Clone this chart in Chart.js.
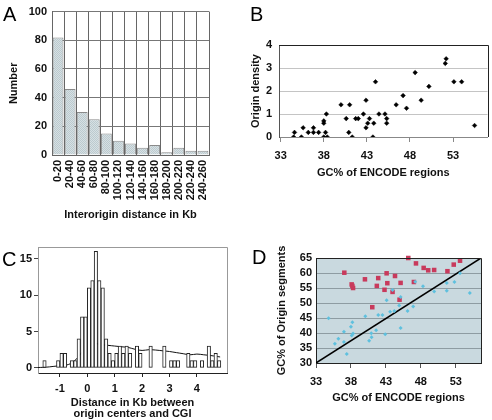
<!DOCTYPE html>
<html>
<head>
<meta charset="utf-8">
<script src="https://cdn.jsdelivr.net/npm/chart.js@4.4.1/dist/chart.umd.min.js"></script>
<style>
  body { margin: 0; background: #fff; }
  #wrap { position: relative; width: 492px; height: 420px; overflow: hidden; font-family: "Liberation Sans", Arial, sans-serif; }
  canvas { position: absolute; }
  .letter { position: absolute; font-size: 20px; line-height: 20px; color: #000; }
</style>
</head>
<body>
<div id="wrap">
  <canvas id="chartA" width="246" height="225" style="left:0;top:0"></canvas>
  <canvas id="chartB" width="246" height="160" style="left:246px;top:30px"></canvas>
  <canvas id="chartC" width="246" height="195" style="left:0;top:225px"></canvas>
  <canvas id="chartD" width="246" height="180" style="left:246px;top:240px"></canvas>
  <div class="letter" style="left:3px;top:4px">A</div>
  <div class="letter" style="left:250px;top:4px">B</div>
  <div class="letter" style="left:2px;top:249px">C</div>
  <div class="letter" style="left:252px;top:247px">D</div>
</div>
<script>
// A: interorigin distances
const distanceBins = ['0-20', '20-40', '40-60', '60-80', '80-100', '100-120', '120-140',
  '140-160', '160-180', '180-200', '200-220', '220-240', '240-260'];
const interoriginCounts = [82, 46, 30, 25, 15, 10, 8, 5, 7, 2, 5, 3, 3];

// B: origin density vs GC% of ENCODE regions
const gcB = [34.5, 34.6, 35.4, 35.6, 36.2, 36.8, 36.8, 37.4, 38.0, 38.0, 38.0, 38.2, 38.3, 38.4,
  40.0, 40.6, 40.9, 41.0, 41.3, 41.7, 42.0, 42.6, 42.9, 42.9, 43.1, 43.3, 43.7, 43.8, 44.0,
  44.4, 45.1, 45.3, 45.3, 46.4, 47.2, 47.6, 48.6, 49.3, 50.2, 52.1, 52.2, 53.1, 54.0, 55.5];
const densityB = [0, 0.2, 0, 0.4, 0.2, 0.2, 0.4, 0.2, 0, 0.6, 0.7, 0.2, 1.0, 0,
  1.4, 0.8, 0.2, 1.4, 0, 0.8, 0.8, 1.0, 1.6, 0.4, 0.6, 0.8, 0, 0.6, 2.4,
  1.0, 1.0, 0.8, 0.6, 1.4, 1.8, 1.25, 2.8, 1.6, 2.2, 3.2, 3.4, 2.4, 2.4, 0.5];
const gcTicks = [33, 38, 43, 48, 53];

// C: distance between origin centers and CGI (kb), bins of 0.125 kb from -1.625
const binStartC = -1.625;
const binWidthC = 0.125;
const countsC = [1, 0, 0, 0, 1, 2, 2, 0, 1, 1, 4, 7, 7, 11, 12, 16, 12, 11, 4, 2,
  1, 2, 3, 2, 3, 2, 0, 3, 2, 0, 0, 3, 0, 0, 0, 3, 0, 1, 1, 1,
  0, 0, 2, 1, 1, 0, 1, 0, 3, 1, 2, 1];
const curveXC = [-1.8, -1.5, -1.25, -1, -0.75, -0.5, -0.25, 0, 0.25, 0.5, 0.75, 1, 1.25, 1.5,
  1.75, 2, 2.25, 2.5, 2.75, 3, 3.25, 3.5, 3.75, 4, 4.25, 4.5, 4.85];
const curveYC = [0.05, 0.1, 0.2, 0.3, 0.4, 0.85, 1.9, 3.0, 3.35, 3.2, 3.1, 3.0, 2.9, 2.8,
  2.55, 2.4, 2.5, 2.45, 2.35, 2.25, 2.1, 1.95, 1.8, 1.9, 1.8, 1.7, 1.5];
const distTicksC = [-1, 0, 1, 2, 3, 4];
const countTicksC = [0, 5, 10, 15];

// D: GC% of origin segments vs GC% of ENCODE regions
const redX = [37.05, 38.1, 38.2, 38.3, 40.0, 41.05, 41.7, 41.9, 42.8, 43.1, 43.2, 43.95,
  44.3, 44.95, 45.1, 46.2, 47.0, 47.3, 48.4, 49.05, 49.9, 51.8, 52.7, 53.6];
const redY = [60.1, 56.2, 55.7, 55.0, 57.9, 48.6, 55.7, 58.3, 54.4, 59.9, 56.6, 53.7,
  59.0, 51.1, 56.7, 65.0, 57.0, 63.2, 61.7, 60.9, 61.0, 60.6, 62.8, 64.1];
const blueX = [34.8, 35.7, 36.2, 37.0, 37.0, 37.4, 38.0, 38.2, 38.1, 38.3, 40.05, 40.6, 40.9,
  40.95, 41.6, 41.9, 42.5, 42.9, 43.1, 43.6, 44.2, 43.95, 44.9, 45.1, 45.1, 46.1, 46.9,
  47.2, 48.3, 49.9, 51.7, 51.7, 52.8, 53.6, 55.0];
const blueY = [44.9, 36.4, 38.1, 37.0, 40.4, 33.0, 42.1, 43.6, 39.2, 39.8, 45.6, 37.4, 39.9,
  38.6, 40.9, 46.0, 46.0, 39.6, 50.9, 47.1, 47.3, 54.3, 49.2, 52.0, 41.7, 47.3, 48.8,
  57.1, 55.6, 53.8, 56.7, 54.1, 57.0, 59.9, 53.3];
const gcOriginTicks = [30, 35, 40, 45, 50, 55, 60, 65];
const diagX = [33, 56.6];
const diagY = [30, 65];

Chart.defaults.font.family = '"Liberation Sans", Arial, sans-serif';
Chart.defaults.font.size = 11;
Chart.defaults.font.weight = 'bold';
Chart.defaults.color = '#111';
Chart.defaults.animation = false;
Chart.defaults.events = [];
Chart.defaults.plugins.legend.display = false;
Chart.defaults.plugins.tooltip.enabled = false;

// fills the plot area and draws its top and right edges
const plotFrame = {
  id: 'plotFrame',
  beforeDraw(chart, args, opts) {
    if (!opts.fill) return;
    const a = chart.chartArea;
    chart.ctx.save();
    chart.ctx.fillStyle = opts.fill;
    chart.ctx.fillRect(a.left, a.top, a.right - a.left, a.bottom - a.top);
    chart.ctx.restore();
  },
  afterDraw(chart, args, opts) {
    if (!opts.color) return;
    const a = chart.chartArea;
    const ctx = chart.ctx;
    ctx.save();
    ctx.strokeStyle = opts.color;
    ctx.lineWidth = 1;
    ctx.beginPath();
    ctx.moveTo(Math.round(a.left), Math.round(a.top) + 0.5);
    ctx.lineTo(Math.round(a.right) + 0.5, Math.round(a.top) + 0.5);
    ctx.lineTo(Math.round(a.right) + 0.5, Math.round(a.bottom));
    ctx.stroke();
    ctx.restore();
  }
};
Chart.register(plotFrame);

function stipple() {
  const c = document.createElement('canvas');
  c.width = 2; c.height = 2;
  const g = c.getContext('2d');
  g.fillStyle = '#d6e0e3';
  g.fillRect(0, 0, 2, 2);
  g.fillStyle = '#bccacf';
  g.fillRect(0, 0, 1, 1);
  g.fillRect(1, 1, 1, 1);
  return g.createPattern(c, 'repeat');
}

const points = (xs, ys) => xs.map((x, i) => ({ x, y: ys[i] }));
const fixedTicks = list => scale => { scale.ticks = list.map(v => ({ value: v })); };

new Chart(document.getElementById('chartA'), {
  type: 'bar',
  data: {
    labels: distanceBins,
    datasets: [{
      data: interoriginCounts,
      backgroundColor: stipple(),
      borderColor: '#8a8a8a',
      borderWidth: 1,
      barPercentage: 0.9,
      categoryPercentage: 1
    }]
  },
  options: {
    responsive: false,
    layout: { padding: { top: 6, right: 37 } },
    scales: {
      x: {
        grid: { color: '#666', offset: true, drawTicks: false },
        border: { color: '#666' },
        ticks: { minRotation: 90, maxRotation: 90, padding: 5, autoSkip: false },
        title: { display: true, text: 'Interorigin distance in Kb', padding: { top: 0, bottom: 3 } },
        afterFit: s => { s.height = 70; }
      },
      y: {
        min: 0, max: 100,
        grid: { color: '#777', drawTicks: false },
        border: { color: '#666' },
        ticks: { stepSize: 20, padding: 5 },
        title: { display: true, text: 'Number', padding: { top: 7, bottom: 0 } },
        afterFit: s => { s.width = 52; }
      }
    }
  }
});

new Chart(document.getElementById('chartB'), {
  type: 'scatter',
  data: {
    datasets: [{
      data: points(gcB, densityB),
      pointStyle: 'rectRot',
      pointRadius: 2.3,
      backgroundColor: '#000',
      borderColor: '#000',
      borderWidth: 0.5
    }]
  },
  options: {
    responsive: false,
    layout: { padding: { top: 15, right: 3 } },
    plugins: { plotFrame: { color: '#222' } },
    scales: {
      x: {
        min: 32.8, max: 57,
        afterBuildTicks: fixedTicks(gcTicks),
        grid: { drawOnChartArea: false, tickLength: 5, color: '#888' },
        border: { color: '#888' },
        ticks: { padding: 7 },
        title: { display: true, text: 'GC% of ENCODE regions', padding: { top: 0, bottom: 10 } },
        afterFit: s => { s.height = 53; }
      },
      y: {
        min: 0, max: 4,
        grid: { color: '#c4c4c4', drawTicks: false },
        border: { color: '#555' },
        ticks: { stepSize: 1, padding: 7 },
        title: { display: true, text: 'Origin density', padding: { top: 3, bottom: 0 } },
        afterFit: s => { s.width = 33; }
      }
    }
  }
});

new Chart(document.getElementById('chartC'), {
  type: 'bar',
  data: {
    datasets: [{
      data: countsC.map((n, i) => ({ x: binStartC + binWidthC * (i + 0.5), y: n })),
      backgroundColor: '#fff',
      borderColor: '#222',
      borderWidth: 1,
      borderSkipped: false,
      barPercentage: 1,
      categoryPercentage: 1
    }, {
      type: 'line',
      data: points(curveXC, curveYC),
      borderColor: '#111',
      borderWidth: 1,
      pointRadius: 0,
      tension: 0.4
    }]
  },
  options: {
    responsive: false,
    layout: { padding: { top: 22, right: 19 } },
    plugins: { plotFrame: { color: '#999' } },
    scales: {
      x: {
        type: 'linear',
        offset: false,
        min: -1.8, max: 5.1,
        afterBuildTicks: fixedTicks(distTicksC),
        grid: { offset: false, drawOnChartArea: false, tickLength: 4, color: '#222' },
        border: { color: '#222' },
        ticks: { padding: 5 },
        title: {
          display: true,
          text: ['Distance in Kb between', 'origin centers and CGI'],
          font: { lineHeight: 1.05 },
          padding: { top: 0, bottom: 0 }
        },
        afterFit: s => { s.height = 47; }
      },
      y: {
        min: -0.7, max: 16.6,
        afterBuildTicks: fixedTicks(countTicksC),
        grid: { drawOnChartArea: false, tickLength: 4, color: '#444' },
        border: { color: '#999' },
        ticks: { padding: 2 },
        afterFit: s => { s.width = 38; }
      }
    }
  }
});

new Chart(document.getElementById('chartD'), {
  type: 'scatter',
  data: {
    datasets: [{
      data: points(blueX, blueY),
      pointStyle: 'rectRot',
      pointRadius: 2,
      backgroundColor: '#5ec0de',
      borderColor: '#5ec0de',
      borderWidth: 0
    }, {
      data: points(redX, redY),
      pointStyle: 'rect',
      pointRadius: 3.2,
      backgroundColor: '#c83a5c',
      borderColor: '#c83a5c',
      borderWidth: 0,
      clip: false
    }, {
      data: points(diagX, diagY),
      showLine: true,
      borderColor: '#000',
      borderWidth: 1.5,
      pointRadius: 0
    }]
  },
  options: {
    responsive: false,
    layout: { padding: { top: 18, right: 11 } },
    plugins: { plotFrame: { color: '#222', fill: '#c9d9df' } },
    scales: {
      x: {
        min: 33, max: 56.6,
        afterBuildTicks: fixedTicks(gcTicks),
        grid: { drawOnChartArea: false, tickLength: 5, color: '#555' },
        border: { color: '#222' },
        ticks: { padding: 7 },
        title: { display: true, text: 'GC% of ENCODE regions', padding: { top: 0, bottom: 15 } },
        afterFit: s => { s.height = 57; }
      },
      y: {
        min: 30, max: 65,
        afterBuildTicks: fixedTicks(gcOriginTicks),
        grid: { color: '#8e9ca2', drawTicks: false },
        border: { color: '#222' },
        ticks: { autoSkip: false, padding: 4 },
        title: { display: true, text: 'GC% of Origin segments', padding: { top: 29, bottom: 0 } },
        afterFit: s => { s.width = 70; }
      }
    }
  }
});
</script>
</body>
</html>
